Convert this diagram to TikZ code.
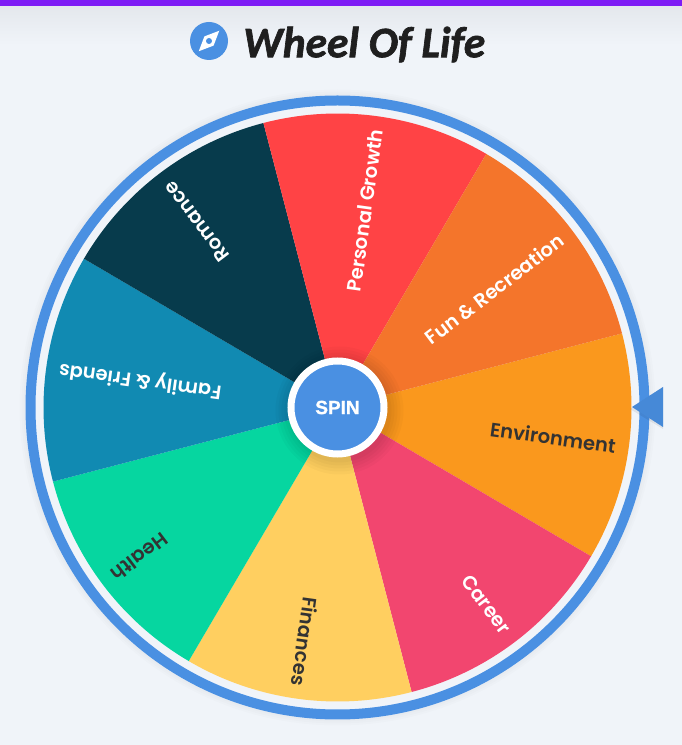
\documentclass[tikz,border=0pt]{standalone}
\usepackage{fontspec}
\setmainfont{Carlito}[BoldItalicFeatures={FakeBold=1.5}]
\newfontfamily\wheelfont{Poppins SemiBold}
\newfontfamily\spinfont{Liberation Sans}[BoldFeatures={FakeBold=1.2}]
\usetikzlibrary{calc}
\definecolor{pagebg}{HTML}{F0F4F9}
\definecolor{ringblue}{HTML}{4A90E2}
\definecolor{barpurple}{HTML}{7E1CF5}
\definecolor{darktext}{HTML}{333333}
\definecolor{colenv}{HTML}{FA981D}
\definecolor{colcareer}{HTML}{F2466F}
\definecolor{colfin}{HTML}{FFCF60}
\definecolor{colhealth}{HTML}{06D6A0}
\definecolor{colfam}{HTML}{118AB2}
\definecolor{colrom}{HTML}{073B4C}
\definecolor{colgrowth}{HTML}{FF4345}
\definecolor{colfun}{HTML}{F4752B}
\tikzset{
  wheellabel/.style={anchor=east, inner sep=0pt, font=\wheelfont\fontsize{19.5}{19.5}\selectfont},
  hubnode/.style={circle, draw=white, line width=7pt, fill=ringblue, minimum size=93pt, inner sep=0pt,
    text=white, font=\spinfont\bfseries\fontsize{19}{19}\selectfont}
}
\begin{document}
\begin{tikzpicture}[x=1pt, y=1pt]
  \useasboundingbox (0,0) rectangle (682,745);
  \fill [pagebg] (0,0) rectangle (682,745);
  \shade [top color=black!5!pagebg, bottom color=pagebg] (0,700) rectangle (682,739);
  \fill [barpurple] (0,739) rectangle (682,745);

  % title
  \fill [ringblue] (209,704) circle (19);
  \fill [white, rotate around={45:(209,704)}] (209,704)++(-14.5,0)--++(14.5,6.5)--++(14.5,-6.5)--++(-14.5,-6.5)--cycle;
  \fill [ringblue] (209,704) circle (3);
  \node (title) [anchor=west, inner sep=0pt, text=black!88, font=\bfseries\itshape\fontsize{43.5}{43.5}\selectfont] at (243,700.5) {Wheel Of Life};

  \coordinate (hubc) at (337.5,337.5);

  % soft shadow of the ring
  \foreach \r in {318,316,314}{
    \fill [black, opacity=0.012] (hubc) circle (\r);
  }
  \fill [pagebg] (hubc) circle (312);
  \draw [ringblue, line width=10pt] (hubc) circle (307);

  % sectors: start angle / colour / text colour / label
  \foreach \a/\col/\tcol/\lab/\nm in {
    -30.4/colenv/darktext/Environment/env,
    -75.4/colcareer/white/Career/career,
    -120.4/colfin/darktext/Finances/fin,
    -165.4/colhealth/darktext/Health/health,
    149.6/colfam/white/Family \& Friends/fam,
    104.6/colrom/white/Romance/rom,
    59.6/colgrowth/white/Personal Growth/growth,
    14.6/colfun/white/Fun \& Recreation/fun}{
    \fill [\col] (hubc) -- ++(\a:294) arc (\a:\a+45:294) -- cycle;
    \node (\nm) [wheellabel, text=\tcol, rotate=\a+22.5] at ($(hubc)+(\a+22.5:281)$) {\lab};
  }

  % shadow round the hub
  \foreach \r in {64,61,58,55,52}{
    \fill [black, opacity=0.022] ($(hubc)+(2,-3)$) circle (\r);
  }
  \node (hub) [hubnode] at (hubc) {SPIN};

  % pointer
  \fill [black, opacity=0.07] (630,336) -- (663,316) -- (663,358) -- cycle;
  \fill [ringblue!95!black] (632,338) -- (663,318) -- (663,358) -- cycle;
\end{tikzpicture}
\end{document}
